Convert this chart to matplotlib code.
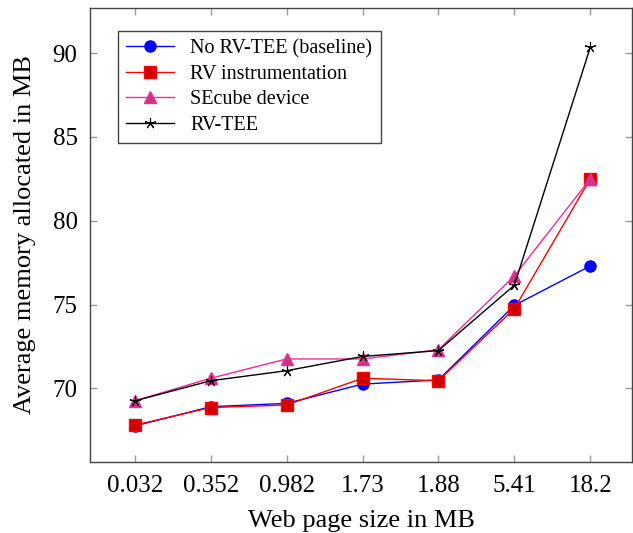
import numpy as np
import matplotlib.pyplot as plt

plt.rcParams['font.family'] = ['Liberation Serif', 'DejaVu Serif']

sizes = ['0.032', '0.352', '0.982', '1.73', '1.88', '5.41', '18.2']
baseline = [67.75, 68.9, 69.1, 70.25, 70.5, 74.95, 77.3]
rv_instr = [67.8, 68.85, 69.0, 70.6, 70.45, 74.75, 82.5]
secube = [69.25, 70.6, 71.75, 71.75, 72.3, 76.7, 82.5]
rv_tee = [69.25, 70.45, 71.05, 71.9, 72.25, 76.15, 90.35]

fig = plt.figure(figsize=(6.33, 5.33), dpi=100)
ax = fig.add_axes([90 / 633, 71 / 533, 542 / 633, 454 / 533])

x = np.arange(len(sizes))
ax.plot(x, baseline, color='blue', marker='o', markersize=8, lw=1,
        label='No RV-TEE (baseline)')
ax.plot(x, rv_instr, color='red', marker='s', markersize=8, lw=1,
        markerfacecolor='#d00000', markeredgecolor='red', label='RV instrumentation')
ax.plot(x, secube, color='#ee2a9c', marker='^', markersize=8, lw=1,
        markerfacecolor='#c8377f', markeredgecolor='#ee2a9c', label='SEcube device')
ax.plot(x, rv_tee, color='black', marker=(5, 2, 0), markersize=8, lw=1,
        markeredgewidth=0.8, label='RV-TEE')

ax.set_xlim(-0.59, 6.55)
ax.set_ylim(65.6, 92.7)
ax.set_xticks(x)
ax.set_xticklabels(sizes)
ax.set_yticks([70, 75, 80, 85, 90])
ax.tick_params(direction='in', length=5, width=1, color='#999999',
               top=True, right=True, labelsize=18)
ax.tick_params(axis='x', pad=9)
ax.tick_params(axis='y', pad=9)
for s in ax.spines.values():
    s.set_color('#444444')
    s.set_linewidth(1)

ax.set_xlabel('Web page size in MB', fontsize=19, labelpad=10)
ax.set_ylabel('Average memory allocated in MB', fontsize=19, labelpad=12)

leg = ax.legend(loc='upper left', bbox_to_anchor=(0.033, 0.972), fontsize=14.5,
                fancybox=False, framealpha=1, edgecolor='#444444',
                handlelength=2.4, borderpad=0.4, labelspacing=0.32)
leg.get_frame().set_linewidth(1)

fig.savefig('out.png', dpi=100)
